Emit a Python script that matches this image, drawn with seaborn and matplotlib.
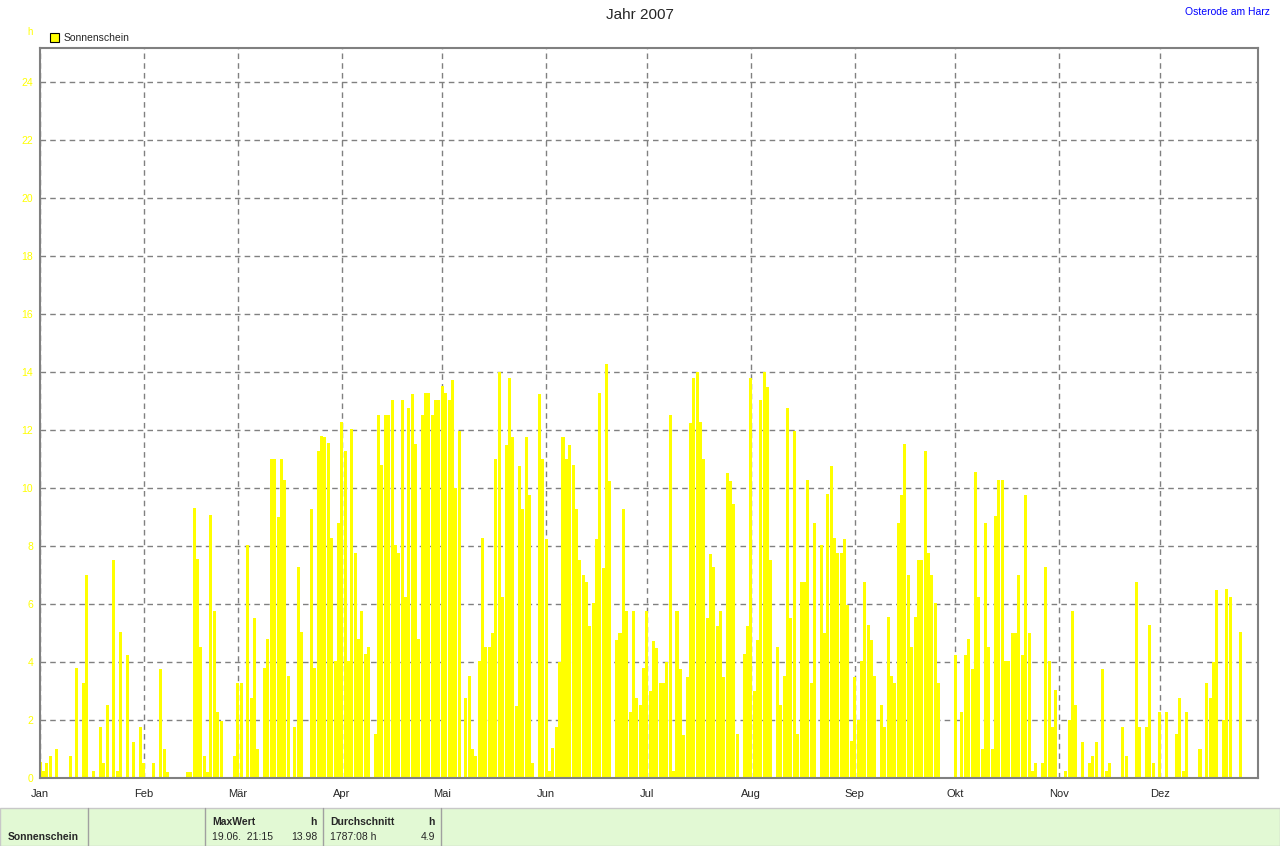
import numpy as np
import pandas as pd
import matplotlib
matplotlib.use("Agg")
import matplotlib.pyplot as plt
from matplotlib.patches import Rectangle
import seaborn as sns

# Sonnenscheindauer pro Tag (h), Osterode am Harz 2007
jan = [0.55, 0.25, 0.53, 0.75, 0, 1.0, 0, 0, 0, 0.75, 0, 3.78, 0, 3.27, 7.0, 0,
       0.25, 0, 1.75, 0.53, 2.5, 0, 7.52, 0.25, 5.02, 0, 4.25, 0, 1.25, 0, 1.75]
feb = [0.5, 0, 0, 0.5, 0, 3.75, 1.0, 0.22, 0, 0, 0, 0, 0, 0.22, 0.22, 9.31,
       7.55, 4.5, 0.75, 0.22, 9.06, 5.77, 2.26, 1.98, 0, 0, 0, 0.75]
mar = [3.27, 3.27, 0, 8.03, 2.77, 5.52, 1.0, 0, 3.78, 4.78, 11.0, 11.0, 9.0, 11.0,
       10.26, 3.5, 0, 1.76, 7.28, 5.02, 0, 0, 9.27, 3.78, 11.27, 11.8, 11.75,
       11.55, 8.26, 4.05, 8.8]
apr = [12.29, 11.26, 4.02, 12.02, 7.75, 4.78, 5.77, 4.26, 4.5, 0, 1.5, 12.53,
       10.79, 12.53, 12.53, 13.04, 8.03, 7.75, 13.04, 6.25, 12.77, 13.25, 11.53,
       4.78, 12.53, 13.27, 13.27, 12.53, 13.04, 13.04]
mai = [13.5, 13.27, 13.04, 13.74, 10.01, 11.97, 0, 2.75, 3.52, 1.0, 0.76, 4.03,
       8.26, 4.51, 4.51, 5.0, 11.0, 14.0, 6.23, 11.48, 13.78, 11.75, 2.49, 10.76,
       9.26, 11.75, 9.76, 0.52, 0, 13.23, 11.0]
jun = [8.25, 0.25, 1.02, 1.76, 4.0, 11.76, 11.0, 11.48, 10.78, 9.26, 7.51, 7.0,
       6.76, 5.25, 6.02, 8.25, 13.26, 7.24, 14.26, 10.25, 0, 4.77, 5.01, 9.26,
       5.76, 2.27, 5.76, 2.75, 2.5, 3.78]
jul = [5.75, 3.01, 4.73, 4.47, 3.26, 3.26, 4.0, 12.51, 0.24, 5.75, 3.77, 1.47,
       3.47, 12.25, 13.78, 14.0, 12.26, 11.0, 5.52, 7.74, 7.26, 5.24, 5.75, 3.49,
       10.51, 10.25, 9.46, 1.5, 0, 4.27, 5.24]
aug = [13.78, 3.01, 4.75, 13.02, 14.0, 13.49, 7.5, 0, 4.5, 2.51, 3.52, 12.75,
       5.52, 11.96, 1.53, 6.77, 6.77, 10.26, 3.26, 8.78, 0, 8.04, 5.01, 9.78,
       10.76, 8.26, 7.75, 7.75, 8.23, 5.98, 1.27]
sep = [3.47, 2.01, 4.03, 6.76, 5.26, 4.75, 3.5, 0, 2.51, 1.76, 5.54, 3.5, 3.26,
       8.8, 9.77, 11.53, 7.01, 4.5, 5.54, 7.53, 7.53, 11.27, 7.77, 7.01, 6.02,
       3.26, 0, 0, 0, 0]
okt = [4.25, 0, 2.26, 4.25, 4.78, 3.76, 10.54, 6.25, 0.99, 8.8, 4.5, 0.99, 9.03,
       10.26, 10.26, 4.02, 4.02, 5.0, 5.0, 7.0, 4.25, 9.77, 5.0, 0.24, 0.5, 0,
       0.5, 7.27, 4.02, 1.76, 3.02]
nov = [0, 0, 0.24, 1.99, 5.76, 2.5, 0, 1.23, 0, 0.53, 0.75, 1.23, 0, 3.77, 0.24,
       0.53, 0, 0, 0, 1.76, 0.75, 0, 0, 6.75, 1.76, 0, 1.76, 5.26, 0.53, 0]
dez = [2.27, 0, 2.27, 0, 0, 1.53, 2.75, 0.25, 2.27, 0, 0, 0, 1.0, 0, 3.27, 2.75,
       4.0, 6.48, 0, 1.99, 6.51, 6.24, 0, 0, 5.02, 0, 0, 0, 0, 0, 0]

monate = ["Jan", "Feb", "Mär", "Apr", "Mai", "Jun", "Jul", "Aug", "Sep", "Okt", "Nov", "Dez"]
y_ticks = list(range(0, 25, 2))

alle = [jan, feb, mar, apr, mai, jun, jul, aug, sep, okt, nov, dez]
stunden = np.concatenate([np.array(m, dtype=float) for m in alle])
monatsanfang = np.cumsum([0] + [len(m) for m in alle[:-1]])
df = pd.DataFrame({"tag": np.arange(len(stunden)), "h": stunden})

sns.set_style("white")
plt.rcParams["font.family"] = ["Liberation Sans", "DejaVu Sans"]

W, H = 1280, 846
fig = plt.figure(figsize=(W / 100, H / 100), dpi=100)
ax = fig.add_axes([40 / W, (H - 778) / H, (1258 - 40) / W, (778 - 48) / H])

sns.barplot(data=df, x="tag", y="h", native_scale=True, color="#ffff00",
            saturation=1, width=0.9, linewidth=0, errorbar=None, ax=ax)

ax.set_xlim(0, 363.3)
ax.set_ylim(0, 25.17)
ax.set_xlabel("")
ax.set_ylabel("")
ax.set_axisbelow(True)
ax.grid(True, color="#808080", linestyle=(0, (4, 3)), linewidth=1)

ax.set_xticks(monatsanfang)
ax.set_xticklabels(monate, fontsize=8)
ax.set_yticks(y_ticks)
ax.set_yticklabels([str(t) for t in y_ticks], fontsize=7.5, color="#ffff00")
ax.tick_params(axis="x", length=4, color="#808080", pad=4)
ax.tick_params(axis="y", length=0, pad=5)
for s in ax.spines.values():
    s.set_color("#808080")
    s.set_linewidth(1.5)


def px(x, y):
    return x / W, 1 - y / H


# Kopfzeile
fig.text(*px(640, 15), "Jahr 2007", ha="center", va="center", fontsize=11)
fig.text(*px(1270, 12), "Osterode am Harz", ha="right", va="center", fontsize=7.5, color="#0000ff")
fig.text(*px(27, 32), "h", ha="left", va="center", fontsize=7, color="#ffff00")

# Legende
fig.patches.append(Rectangle(px(50, 42), 9 / W, 9 / H, transform=fig.transFigure,
                             facecolor="#ffff00", edgecolor="black", linewidth=0.8))
fig.text(*px(64, 38), "Sonnenschein", ha="left", va="center", fontsize=7.5)

# Fusszeile
fig.patches.append(Rectangle((0, 0), 1, (H - 808) / H, transform=fig.transFigure,
                             facecolor="#e2f9d4", edgecolor="#c8c8c8", linewidth=1))
for xs in [88, 205, 323, 441]:
    fig.add_artist(plt.Line2D([xs / W, xs / W], [0, (H - 808) / H], transform=fig.transFigure,
                              color="#a0a0a0", linewidth=1))

fig.text(*px(8, 837), "Sonnenschein", ha="left", va="center", fontsize=7.5, fontweight="bold")
fig.text(*px(212, 822), "MaxWert", ha="left", va="center", fontsize=7.5, fontweight="bold")
fig.text(*px(317, 822), "h", ha="right", va="center", fontsize=7.5, fontweight="bold")
fig.text(*px(212, 837), "19.06.  21:15", ha="left", va="center", fontsize=7.5)
fig.text(*px(317, 837), "13.98", ha="right", va="center", fontsize=7.5)
fig.text(*px(330, 822), "Durchschnitt", ha="left", va="center", fontsize=7.5, fontweight="bold")
fig.text(*px(435, 822), "h", ha="right", va="center", fontsize=7.5, fontweight="bold")
fig.text(*px(330, 837), "1787:08 h", ha="left", va="center", fontsize=7.5)
fig.text(*px(435, 837), "4.9", ha="right", va="center", fontsize=7.5)

fig.savefig("out.png", dpi=100)
